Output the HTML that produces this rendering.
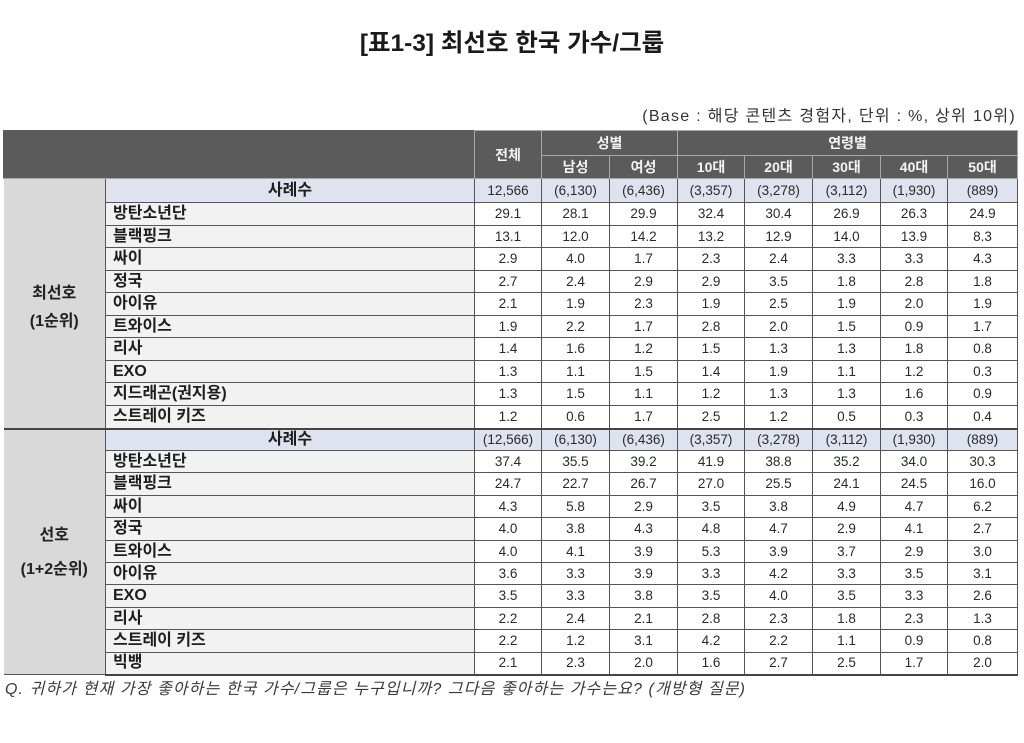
<!DOCTYPE html>
<html><head><meta charset="utf-8">
<style>
html,body{margin:0;padding:0;background:#fff;}
body{width:1024px;height:743px;position:relative;overflow:hidden;font-family:"Liberation Sans","Noto Sans CJK KR",sans-serif;color:#262626;}
.title{position:absolute;left:0;width:1024px;top:27px;text-align:center;font-size:24.5px;font-weight:bold;line-height:34px;color:#1a1a1a;font-family:"Liberation Sans","Noto Sans CJK KR",sans-serif;}
.base{position:absolute;right:8px;top:107px;font-size:16px;line-height:20px;color:#333;letter-spacing:1.3px;}
.foot{position:absolute;left:5px;top:679px;font-size:16px;line-height:22px;color:#3a3a3a;font-style:italic;letter-spacing:1.1px;}
table{position:absolute;left:3px;top:130px;width:1014px;border-collapse:collapse;table-layout:fixed;}
td{padding:0;border:1px solid #555;text-align:center;font-size:13.5px;line-height:16px;color:#2a2a2a;background:#fff;overflow:hidden;white-space:nowrap;}
td.h{background:#5b5b5b;color:#f4f4f4;font-weight:bold;font-size:14px;border-color:#a8a8a8;}
td.hc{border-top:1px solid #5b5b5b;border-left:1px solid #5b5b5b;}
td.g{background:#d9d9d9;border-left:none;font-weight:bold;font-size:16px;color:#222;}
td.l{text-align:left;padding-left:7px;font-weight:bold;font-size:16px;background:#f2f2f2;color:#1e1e1e;}
tr.n td{background:#dfe3f0;}
tr.n td.lc{font-weight:bold;font-size:16px;text-align:center;color:#1e1e1e;}
tr.n td.g{background:#d9d9d9;}
tr.sep td{border-top:2px solid #444;}
tr.last td{border-bottom:2px solid #444;}
</style></head><body>
<div class="title">[표1-3] 최선호 한국 가수/그룹</div>
<div class="base">(Base : 해당 콘텐츠 경험자, 단위 : %, 상위 10위)</div>
<table>
<colgroup><col style="width:102px"><col style="width:369px"><col style="width:67px"><col style="width:68px"><col style="width:68px"><col style="width:67px"><col style="width:68px"><col style="width:68px"><col style="width:67px"><col style="width:70px"></colgroup>
<tr style="height:25px"><td class="h hc" colspan="2" rowspan="2"></td><td class="h" rowspan="2">전체</td><td class="h" colspan="2">성별</td><td class="h" colspan="5">연령별</td></tr>
<tr style="height:23px"><td class="h">남성</td><td class="h">여성</td><td class="h">10대</td><td class="h">20대</td><td class="h">30대</td><td class="h">40대</td><td class="h">50대</td></tr>

<tr class="n" style="height:24px"><td class="g" rowspan="11" style="line-height:28px;padding-top:10px">최선호<br>(1순위)</td><td class="lc">사례수</td><td>12,566</td><td>(6,130)</td><td>(6,436)</td><td>(3,357)</td><td>(3,278)</td><td>(3,112)</td><td>(1,930)</td><td>(889)</td></tr>
<tr style="height:23px"><td class="l">방탄소년단</td><td>29.1</td><td>28.1</td><td>29.9</td><td>32.4</td><td>30.4</td><td>26.9</td><td>26.3</td><td>24.9</td></tr>
<tr style="height:22px"><td class="l">블랙핑크</td><td>13.1</td><td>12.0</td><td>14.2</td><td>13.2</td><td>12.9</td><td>14.0</td><td>13.9</td><td>8.3</td></tr>
<tr style="height:23px"><td class="l">싸이</td><td>2.9</td><td>4.0</td><td>1.7</td><td>2.3</td><td>2.4</td><td>3.3</td><td>3.3</td><td>4.3</td></tr>
<tr style="height:22px"><td class="l">정국</td><td>2.7</td><td>2.4</td><td>2.9</td><td>2.9</td><td>3.5</td><td>1.8</td><td>2.8</td><td>1.8</td></tr>
<tr style="height:23px"><td class="l">아이유</td><td>2.1</td><td>1.9</td><td>2.3</td><td>1.9</td><td>2.5</td><td>1.9</td><td>2.0</td><td>1.9</td></tr>
<tr style="height:22px"><td class="l">트와이스</td><td>1.9</td><td>2.2</td><td>1.7</td><td>2.8</td><td>2.0</td><td>1.5</td><td>0.9</td><td>1.7</td></tr>
<tr style="height:23px"><td class="l">리사</td><td>1.4</td><td>1.6</td><td>1.2</td><td>1.5</td><td>1.3</td><td>1.3</td><td>1.8</td><td>0.8</td></tr>
<tr style="height:22px"><td class="l">EXO</td><td>1.3</td><td>1.1</td><td>1.5</td><td>1.4</td><td>1.9</td><td>1.1</td><td>1.2</td><td>0.3</td></tr>
<tr style="height:23px"><td class="l">지드래곤(권지용)</td><td>1.3</td><td>1.5</td><td>1.1</td><td>1.2</td><td>1.3</td><td>1.3</td><td>1.6</td><td>0.9</td></tr>
<tr style="height:23px"><td class="l">스트레이 키즈</td><td>1.2</td><td>0.6</td><td>1.7</td><td>2.5</td><td>1.2</td><td>0.5</td><td>0.3</td><td>0.4</td></tr>

<tr class="n sep" style="height:22px"><td class="g" rowspan="11" style="line-height:34px;padding-top:2px">선호<br>(1+2순위)</td><td class="lc">사례수</td><td>(12,566)</td><td>(6,130)</td><td>(6,436)</td><td>(3,357)</td><td>(3,278)</td><td>(3,112)</td><td>(1,930)</td><td>(889)</td></tr>
<tr style="height:22px"><td class="l">방탄소년단</td><td>37.4</td><td>35.5</td><td>39.2</td><td>41.9</td><td>38.8</td><td>35.2</td><td>34.0</td><td>30.3</td></tr>
<tr style="height:23px"><td class="l">블랙핑크</td><td>24.7</td><td>22.7</td><td>26.7</td><td>27.0</td><td>25.5</td><td>24.1</td><td>24.5</td><td>16.0</td></tr>
<tr style="height:22px"><td class="l">싸이</td><td>4.3</td><td>5.8</td><td>2.9</td><td>3.5</td><td>3.8</td><td>4.9</td><td>4.7</td><td>6.2</td></tr>
<tr style="height:23px"><td class="l">정국</td><td>4.0</td><td>3.8</td><td>4.3</td><td>4.8</td><td>4.7</td><td>2.9</td><td>4.1</td><td>2.7</td></tr>
<tr style="height:22px"><td class="l">트와이스</td><td>4.0</td><td>4.1</td><td>3.9</td><td>5.3</td><td>3.9</td><td>3.7</td><td>2.9</td><td>3.0</td></tr>
<tr style="height:22px"><td class="l">아이유</td><td>3.6</td><td>3.3</td><td>3.9</td><td>3.3</td><td>4.2</td><td>3.3</td><td>3.5</td><td>3.1</td></tr>
<tr style="height:23px"><td class="l">EXO</td><td>3.5</td><td>3.3</td><td>3.8</td><td>3.5</td><td>4.0</td><td>3.5</td><td>3.3</td><td>2.6</td></tr>
<tr style="height:22px"><td class="l">리사</td><td>2.2</td><td>2.4</td><td>2.1</td><td>2.8</td><td>2.3</td><td>1.8</td><td>2.3</td><td>1.3</td></tr>
<tr style="height:23px"><td class="l">스트레이 키즈</td><td>2.2</td><td>1.2</td><td>3.1</td><td>4.2</td><td>2.2</td><td>1.1</td><td>0.9</td><td>0.8</td></tr>
<tr class="last" style="height:22px"><td class="l">빅뱅</td><td>2.1</td><td>2.3</td><td>2.0</td><td>1.6</td><td>2.7</td><td>2.5</td><td>1.7</td><td>2.0</td></tr>
</table>
<div class="foot">Q. 귀하가 현재 가장 좋아하는 한국 가수/그룹은 누구입니까? 그다음 좋아하는 가수는요? (개방형 질문)</div>
</body></html>
